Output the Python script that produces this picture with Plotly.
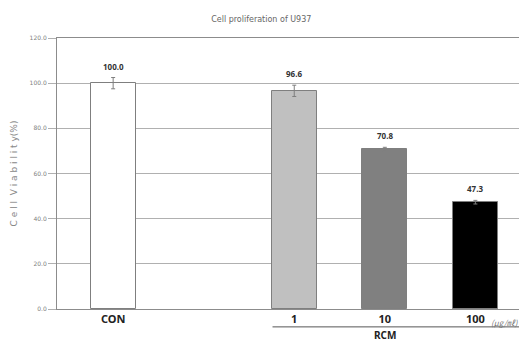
import plotly.graph_objects as go

categories = ["CON", "1", "10", "100"]
positions = [0, 2, 3, 4]
values = [100.0, 96.6, 70.8, 47.3]
errors = [2.5, 2.5, 0.8, 0.8]
colors = ["#ffffff", "#c0c0c0", "#808080", "#000000"]
y_ticks = [0, 20, 40, 60, 80, 100, 120]

fig = go.Figure()
fig.add_trace(go.Bar(
    x=positions, y=values, width=0.5,
    marker=dict(color=colors, line=dict(color="#7f7f7f", width=1)),
    error_y=dict(type="data", array=errors, color="#7f7f7f", thickness=1, width=2),
    showlegend=False,
))
for p, v, e in zip(positions, values, errors):
    fig.add_annotation(x=p, y=v + e, text=f"<b>{v:.1f}</b>", showarrow=False,
                       yanchor="bottom", yshift=4,
                       font=dict(size=8, color="#333333", family="Noto Sans"))

ticktext = ["<b>" + c + "</b>" for c in categories]
fig.update_xaxes(range=[-0.62, 4.57], tickvals=positions, ticktext=ticktext,
                 showgrid=False, zeroline=False, showline=True, linecolor="#8c8c8c",
                 mirror=True, ticks="", tickfont=dict(size=11, color="#222222", family="Noto Sans"))
fig.update_yaxes(range=[0, 120], tickvals=y_ticks, ticktext=[f"{t:.1f}" for t in y_ticks],
                 showgrid=True, gridcolor="#b0b0b0", gridwidth=1, zeroline=False,
                 showline=True, linecolor="#8c8c8c", mirror=True,
                 ticks="outside", ticklen=8, tickcolor="#b0b0b0",
                 tickfont=dict(size=6, color="#808080", family="DejaVu Sans"),
                 title=dict(text="C e l l  V i a b i l i t y(%)", standoff=10,
                            font=dict(size=9, color="#888888", family="DejaVu Sans")))

# unit label and RCM group
fig.add_annotation(x=4, y=0, xref="x", yref="y", text="<i>(μg/㎖)</i>", showarrow=False,
                   xanchor="left", yanchor="top", xshift=14, yshift=-6,
                   font=dict(size=8, color="#777777", family="Noto Sans CJK KR"))
fig.add_shape(type="line", xref="x", yref="paper", x0=1.76, x1=4.57, y0=-0.066, y1=-0.066,
              line=dict(color="#555555", width=1))
fig.add_annotation(x=3, y=-0.097, xref="x", yref="paper", text="<b>RCM</b>", showarrow=False,
                   yanchor="middle", font=dict(size=10, color="#222222", family="Noto Sans"))

# page body has an 8px margin, so the figure is sized/positioned to compensate
fig.update_layout(
    width=519, height=333,
    margin=dict(l=49, r=0, t=30, b=32),
    paper_bgcolor="white", plot_bgcolor="white",
    title=dict(text="Cell proliferation of U937", x=0.488, xanchor="center", y=0.975,
               font=dict(size=8, color="#666666", family="DejaVu Sans")),
    bargap=0,
)
fig.write_html("out.html")
